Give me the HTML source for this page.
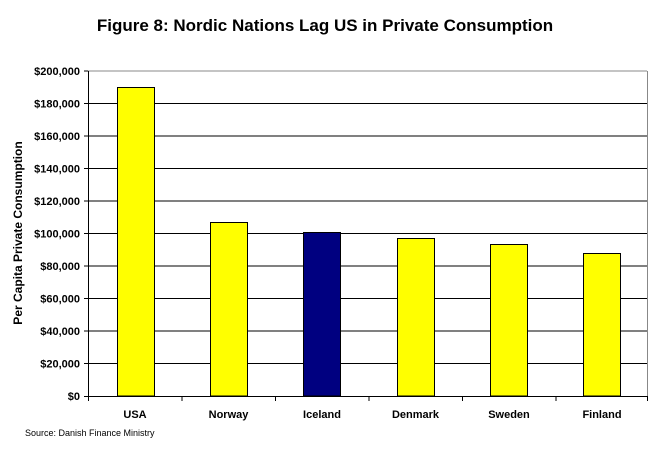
<!DOCTYPE html>
<html><head><style>body{margin:0;background:#fff}</style></head><body>
<svg width="650" height="445" xmlns="http://www.w3.org/2000/svg" font-family="Liberation Sans, sans-serif">
<rect width="650" height="445" fill="#fff"/>
<text x="325" y="31" text-anchor="middle" font-size="17" font-weight="bold">Figure 8: Nordic Nations Lag US in Private Consumption</text>
<g stroke="#000" stroke-width="1">
<line x1="88" y1="71" x2="647" y2="71" stroke="#888"/>
<line x1="88" y1="103.5" x2="647" y2="103.5"/>
<line x1="88" y1="136" x2="647" y2="136"/>
<line x1="88" y1="168.5" x2="647" y2="168.5"/>
<line x1="88" y1="201" x2="647" y2="201"/>
<line x1="88" y1="233.5" x2="647" y2="233.5"/>
<line x1="88" y1="266" x2="647" y2="266"/>
<line x1="88" y1="298.5" x2="647" y2="298.5"/>
<line x1="88" y1="331" x2="647" y2="331"/>
<line x1="88" y1="363.5" x2="647" y2="363.5"/>
<line x1="647.5" y1="71" x2="647.5" y2="396" stroke="#888"/>
</g>
<g stroke="#000" stroke-width="1">
<rect x="117.5" y="87.5" width="37" height="308.5" fill="#ffff00"/>
<rect x="210.5" y="222.5" width="37" height="173.5" fill="#ffff00"/>
<rect x="303.5" y="232.5" width="37" height="163.5" fill="#000080"/>
<rect x="397.5" y="238.5" width="37" height="157.5" fill="#ffff00"/>
<rect x="490.5" y="244.5" width="37" height="151.5" fill="#ffff00"/>
<rect x="583.5" y="253.5" width="37" height="142.5" fill="#ffff00"/>
</g>
<g stroke="#000" stroke-width="1">
<line x1="88.5" y1="71" x2="88.5" y2="401"/>
<line x1="84" y1="396.5" x2="647" y2="396.5"/>
<line x1="84" y1="71" x2="88" y2="71"/><line x1="84" y1="103.5" x2="88" y2="103.5"/><line x1="84" y1="136" x2="88" y2="136"/><line x1="84" y1="168.5" x2="88" y2="168.5"/><line x1="84" y1="201" x2="88" y2="201"/><line x1="84" y1="233.5" x2="88" y2="233.5"/><line x1="84" y1="266" x2="88" y2="266"/><line x1="84" y1="298.5" x2="88" y2="298.5"/><line x1="84" y1="331" x2="88" y2="331"/><line x1="84" y1="363.5" x2="88" y2="363.5"/>
<line x1="182" y1="396" x2="182" y2="401"/><line x1="275.5" y1="396" x2="275.5" y2="401"/><line x1="369" y1="396" x2="369" y2="401"/><line x1="462.5" y1="396" x2="462.5" y2="401"/><line x1="556" y1="396" x2="556" y2="401"/><line x1="647.5" y1="396" x2="647.5" y2="401"/>
</g>
<g font-size="11" font-weight="bold" text-anchor="end">
<text x="80" y="75">$200,000</text><text x="80" y="107.5">$180,000</text><text x="80" y="140">$160,000</text><text x="80" y="172.5">$140,000</text><text x="80" y="205">$120,000</text><text x="80" y="237.5">$100,000</text><text x="80" y="270">$80,000</text><text x="80" y="302.5">$60,000</text><text x="80" y="335">$40,000</text><text x="80" y="367.5">$20,000</text><text x="80" y="400">$0</text>
</g>
<g font-size="11" font-weight="bold" text-anchor="middle">
<text x="135" y="418">USA</text><text x="228.5" y="418">Norway</text><text x="322" y="418">Iceland</text><text x="415.5" y="418">Denmark</text><text x="509" y="418">Sweden</text><text x="602" y="418">Finland</text>
</g>
<text transform="translate(22,233) rotate(-90)" text-anchor="middle" font-size="12" font-weight="bold">Per Capita Private Consumption</text>
<text x="25" y="436" font-size="9">Source: Danish Finance Ministry</text>
</svg>
</body></html>
